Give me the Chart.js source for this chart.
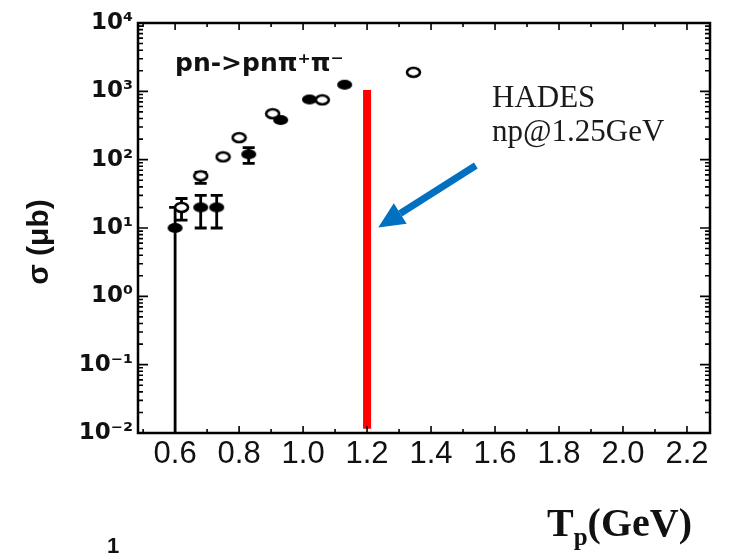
<!DOCTYPE html>
<html>
<head>
<meta charset="utf-8">
<script src="https://cdn.jsdelivr.net/npm/chart.js@4.4.1/dist/chart.umd.min.js"></script>
<style>
  html, body { margin: 0; padding: 0; background: #fff; }
  #wrap { width: 730px; height: 553px; }
</style>
</head>
<body>
<div id="wrap"><canvas id="xsecChart" width="730" height="553"></canvas></div>
<script>
// pn -> pn pi+ pi- : cross section (ub) vs beam kinetic energy Tp (GeV)
const filledT = [0.60, 0.68, 0.73, 0.83, 0.93, 1.02, 1.13];
const filledSigma = [10, 20, 20, 120, 380, 760, 1250];
const filledErrLo = [0.01, 10, 10, 88, null, null, null];
const filledErrHi = [20, 30, 30, 150, null, null, null];

const openT = [0.62, 0.68, 0.75, 0.80, 0.905, 1.06, 1.345];
const openSigma = [20, 58, 110, 210, 470, 750, 1900];
const openErrLo = [13, 45, null, null, null, null, null];
const openErrHi = [27, 65, null, null, null, null, null];

// HADES beam energy
const hadesT = [1.2, 1.2];
const hadesSigma = [0.0115, 1050];

const xTickValues = [0.6, 0.8, 1.0, 1.2, 1.4, 1.6, 1.8, 2.0, 2.2];
const xTickLabels = ['0.6', '0.8', '1.0', '1.2', '1.4', '1.6', '1.8', '2.0', '2.2'];
const yTickValues = [1e-2, 1e-1, 1, 10, 100, 1000, 10000];
const yTickLabels = ['10\u207B\u00B2', '10\u207B\u00B9', '10\u2070', '10\u00B9', '10\u00B2', '10\u00B3', '10\u2074'];

// arrow pointing at the HADES line (data coords)
const arrowTail = { x: 1.54, y: 82 };
const arrowTip = { x: 1.235, y: 10.2 };

function ellipseMarker(w, h, filled) {
    const c = document.createElement('canvas');
    c.width = w + 4;
    c.height = h + 4;
    const g = c.getContext('2d');
    g.beginPath();
    g.ellipse(c.width / 2, c.height / 2, w / 2, h / 2, 0, 0, 2 * Math.PI);
    if (filled) {
        g.fillStyle = '#000';
        g.fill();
    } else {
        g.fillStyle = '#fff';
        g.fill();
        g.lineWidth = 2.6;
        g.strokeStyle = '#000';
        g.stroke();
    }
    return c;
}

const errorBars = {
    id: 'errorBars',
    beforeDatasetsDraw(chart) {
        const { ctx, scales: { x, y } } = chart;
        ctx.save();
        ctx.strokeStyle = '#000';
        ctx.lineWidth = 2.8;
        const drawSet = (ts, lo, hi) => ts.forEach((t, i) => {
            if (lo[i] == null) return;
            const px = x.getPixelForValue(t);
            const yl = y.getPixelForValue(lo[i]);
            const yh = y.getPixelForValue(hi[i]);
            ctx.beginPath();
            ctx.moveTo(px, yl);
            ctx.lineTo(px, yh);
            ctx.moveTo(px - 6, yh);
            ctx.lineTo(px + 6, yh);
            if (lo[i] > y.min) {
                ctx.moveTo(px - 6, yl);
                ctx.lineTo(px + 6, yl);
            }
            ctx.stroke();
        });
        drawSet(filledT, filledErrLo, filledErrHi);
        drawSet(openT, openErrLo, openErrHi);
        ctx.restore();
    }
};

const frameAndTicks = {
    id: 'frameAndTicks',
    afterDraw(chart) {
        const { ctx, chartArea: a, scales: { x, y } } = chart;
        ctx.save();
        ctx.strokeStyle = '#000';
        ctx.lineWidth = 1.6;
        ctx.beginPath();
        // log ticks, pointing inward on left and right
        for (let e = -2; e < 4; e++) {
            for (let m = 1; m < 10; m++) {
                const py = y.getPixelForValue(m * Math.pow(10, e));
                const len = m === 1 ? 10 : 5;
                ctx.moveTo(a.left, py);
                ctx.lineTo(a.left + len, py);
                ctx.moveTo(a.right, py);
                ctx.lineTo(a.right - len, py);
            }
        }
        // energy ticks every 0.1 GeV, bottom and top
        for (let i = 5; i <= 22; i++) {
            const px = x.getPixelForValue(i / 10);
            if (px <= a.left || px >= a.right) continue;
            const len = i % 2 === 0 ? 7 : 4;
            ctx.moveTo(px, a.bottom);
            ctx.lineTo(px, a.bottom - len);
            ctx.moveTo(px, a.top);
            ctx.lineTo(px, a.top + len);
        }
        ctx.stroke();
        ctx.lineWidth = 2.5;
        ctx.strokeRect(a.left, a.top, a.right - a.left, a.bottom - a.top);
        ctx.restore();
    }
};

const labels = {
    id: 'labels',
    afterDraw(chart) {
        const { ctx, scales: { x, y } } = chart;
        ctx.save();

        // reaction
        ctx.fillStyle = '#111';
        ctx.textBaseline = 'alphabetic';
        ctx.font = 'bold 25px "DejaVu Sans"';
        ctx.fillText('pn->pn\u03C0\u207A\u03C0\u207B', 175, 71);

        // HADES annotation
        ctx.font = '31px "Liberation Serif"';
        ctx.fillStyle = '#1a1a1a';
        ctx.fillText('HADES', 492, 107);
        ctx.fillText('np@1.25GeV', 492, 141);

        // arrow
        const x0 = x.getPixelForValue(arrowTail.x), y0 = y.getPixelForValue(arrowTail.y);
        const x1 = x.getPixelForValue(arrowTip.x), y1 = y.getPixelForValue(arrowTip.y);
        const ang = Math.atan2(y1 - y0, x1 - x0);
        const headLen = 26, headHalf = 12;
        const bx = x1 - headLen * Math.cos(ang), by = y1 - headLen * Math.sin(ang);
        ctx.strokeStyle = '#0070c0';
        ctx.fillStyle = '#0070c0';
        ctx.lineWidth = 7;
        ctx.beginPath();
        ctx.moveTo(x0, y0);
        ctx.lineTo(bx, by);
        ctx.stroke();
        ctx.beginPath();
        ctx.moveTo(x1, y1);
        ctx.lineTo(bx + headHalf * Math.sin(ang), by - headHalf * Math.cos(ang));
        ctx.lineTo(bx - headHalf * Math.sin(ang), by + headHalf * Math.cos(ang));
        ctx.closePath();
        ctx.fill();

        // y axis title
        ctx.fillStyle = '#111';
        ctx.save();
        ctx.translate(40, 242);
        ctx.rotate(-Math.PI / 2);
        ctx.textAlign = 'center';
        ctx.textBaseline = 'middle';
        ctx.font = 'bold 30px "Liberation Sans"';
        ctx.fillText('\u03C3 (\u03BCb)', 0, 0);
        ctx.restore();

        // x axis title, T with subscript p
        ctx.font = 'bold 40px "Liberation Serif"';
        ctx.fillText('T', 547, 536);
        const tw = ctx.measureText('T').width;
        ctx.font = 'bold 25px "Liberation Serif"';
        ctx.fillText('p', 547 + tw, 545);
        const pw = ctx.measureText('p').width;
        ctx.font = 'bold 40px "Liberation Serif"';
        ctx.fillText('(GeV)', 547 + tw + pw, 536);

        // page number fragment at the lower left
        ctx.font = 'bold 22px "Liberation Sans"';
        ctx.fillText('1', 107, 553);

        ctx.restore();
    }
};

new Chart(document.getElementById('xsecChart').getContext('2d'), {
    type: 'scatter',
    data: {
        datasets: [
            {
                type: 'line',
                label: 'HADES',
                data: hadesT.map((t, i) => ({ x: t, y: hadesSigma[i] })),
                borderColor: '#ff0000',
                borderWidth: 8,
                borderCapStyle: 'butt',
                pointRadius: 0,
                fill: false
            },
            {
                label: 'open',
                data: openT.map((t, i) => ({ x: t, y: openSigma[i] })),
                pointStyle: ellipseMarker(13, 9, false),
                pointRadius: 6
            },
            {
                label: 'filled',
                data: filledT.map((t, i) => ({ x: t, y: filledSigma[i] })),
                pointStyle: ellipseMarker(15, 10, true),
                pointRadius: 7
            }
        ]
    },
    options: {
        responsive: false,
        animation: false,
        layout: { padding: { left: 0, top: 23, right: 20, bottom: 0 } },
        plugins: {
            legend: { display: false },
            tooltip: { enabled: false }
        },
        scales: {
            x: {
                type: 'linear',
                min: 0.484,
                max: 2.272,
                grid: { display: false, drawTicks: false },
                border: { display: false },
                afterBuildTicks: (scale) => { scale.ticks = xTickValues.map(v => ({ value: v })); },
                afterFit: (scale) => { scale.height = 120; },
                ticks: {
                    autoSkip: false,
                    maxRotation: 0,
                    padding: 3,
                    color: '#111',
                    font: { family: '"Liberation Sans"', size: 31 },
                    callback: (v, i) => xTickLabels[i]
                }
            },
            y: {
                type: 'logarithmic',
                min: 1e-2,
                max: 1e4,
                grid: { display: false, drawTicks: false },
                border: { display: false },
                afterBuildTicks: (scale) => { scale.ticks = yTickValues.map(v => ({ value: v })); },
                afterFit: (scale) => { scale.width = 138; },
                ticks: {
                    autoSkip: false,
                    padding: 5,
                    color: '#111',
                    font: { family: '"DejaVu Sans"', size: 23, weight: 'bold' },
                    callback: (v, i) => yTickLabels[i]
                }
            }
        }
    },
    plugins: [errorBars, frameAndTicks, labels]
});
</script>
</body>
</html>
